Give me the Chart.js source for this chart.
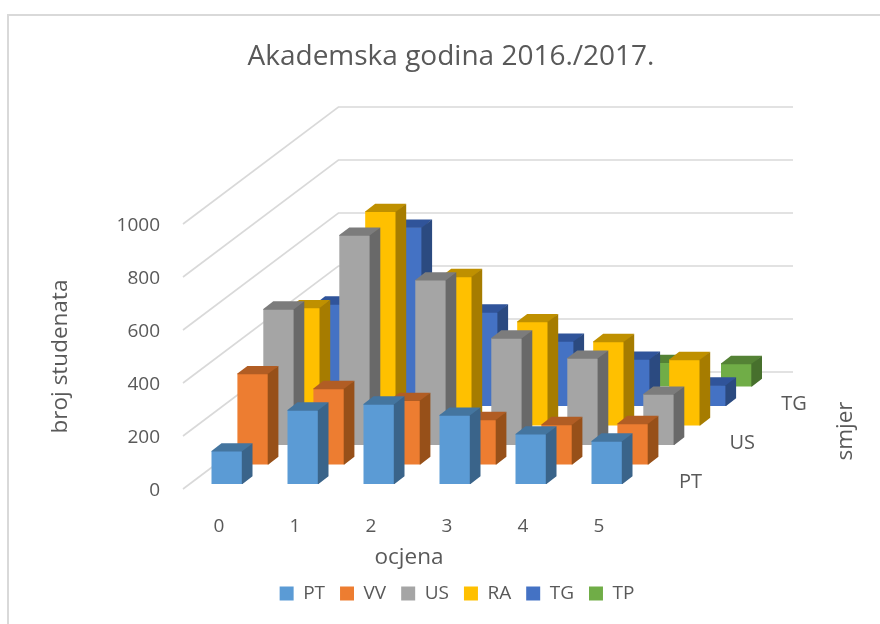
<!DOCTYPE html>
<html><head><meta charset="utf-8">
<style>html,body{margin:0;padding:0;background:#fff}canvas{display:block}</style>
<script src="https://cdn.jsdelivr.net/npm/chart.js@4/dist/chart.umd.min.js"></script>
</head><body><canvas id="c" width="880" height="624"></canvas>
<script>
const grades = ['0','1','2','3','4','5'];
const seriesNames = ['PT','VV','US','RA','TG','TP'];
const PT = [125,279,302,260,189,162];
const VV = [343,287,242,170,151,155];
const US = [513,792,623,404,328,192];
const RA = [445,808,562,392,317,249];
const TG = [385,675,355,245,177,79];
const TP = [40,100,80,70,91,87];
const seriesValues = [PT,VV,US,RA,TG,TP];
const frontColors = ['#5B9BD5','#ED7D31','#A5A5A5','#FFC000','#4472C4','#70AD47'];
const topColors = ['#44759F','#B15D24','#7C7C7C','#BF9000','#30549A','#548235'];
const sideColors = ['#3A648A','#975019','#696969','#A67C00','#2B4A80','#47702D'];
const depthTicks = [['PT',0],['US',2],['TG',4]];
const yTicks = [0,200,400,600,800,1000];
const FONT = '"Open Sans", sans-serif';
const TEXT = '#595959';
const GRID = '#D9D9D9';

// oblique projection of the depth axis, in px per series
const DX = 25.9, DY = 19.5, BAR_DX = 10, BAR_DY = 7.7, FLOOR_Y = 5, SEAM = 0.7;

const threeD = {
  id:'threeD',
  beforeDraw(chart){
    const c = chart.ctx;
    c.save(); c.fillStyle='#fff'; c.fillRect(0,0,chart.width,chart.height);
    c.strokeStyle=GRID; c.lineWidth=2;
    c.beginPath(); c.moveTo(880,15); c.lineTo(8,15); c.lineTo(8,624); c.stroke(); c.restore();
  },
  afterLayout(chart){
    const t = chart.titleBlock; t.left = 22; t.right = 880;
    const l = chart.legend; l.left = 34; l.right = 880; l.top = 584 - l.options.labels.padding;
  },
  beforeDatasetsDraw(chart){
    const c = chart.ctx, y = chart.scales.y, x0 = chart.chartArea.left - 6;
    const wx = DX*6, wy = DY*6;
    c.save(); c.strokeStyle=GRID; c.lineWidth=1.6;
    yTicks.forEach(v=>{
      const p = y.getPixelForValue(v);
      c.beginPath(); c.moveTo(x0,p); c.lineTo(x0+wx,p-wy); c.lineTo(793,p-wy); c.stroke();
    });
    c.restore();
  },
  beforeDatasetDraw(chart,{index}){
    const c = chart.ctx;
    c.save(); c.translate(index*DX, -index*DY - FLOOR_Y);
  },
  afterDatasetDraw(chart,{index,meta}){
    const c = chart.ctx;
    meta.data.forEach(b=>{
      const r = b.x + b.width/2, l = b.x - b.width/2;
      c.fillStyle = topColors[index];
      c.beginPath(); c.moveTo(l,b.y+SEAM); c.lineTo(l,b.y); c.lineTo(l+BAR_DX,b.y-BAR_DY); c.lineTo(r+BAR_DX,b.y-BAR_DY); c.lineTo(r+SEAM,b.y+SEAM); c.closePath(); c.fill();
      c.fillStyle = sideColors[index];
      c.beginPath(); c.moveTo(r-SEAM,b.y); c.lineTo(r,b.y); c.lineTo(r+BAR_DX,b.y-BAR_DY); c.lineTo(r+BAR_DX,b.base-BAR_DY); c.lineTo(r,b.base); c.lineTo(r-SEAM,b.base); c.closePath(); c.fill();
    });
    c.restore();
  },
  afterDraw(chart){
    const c = chart.ctx;
    c.save(); c.fillStyle=TEXT; c.textAlign='center'; c.textBaseline='middle';
    c.font = '20px '+FONT;
    depthTicks.forEach(([s,k])=>c.fillText(s, 690.5+k*DX, 482-k*DY));
    c.font = '22.5px '+FONT;
    c.fillText('ocjena',409,558);
    c.translate(846,431); c.rotate(-Math.PI/2); c.fillText('smjer',0,0);
    c.restore();
  }
};

new Chart(document.getElementById('c'),{
  type:'bar',
  plugins:[threeD],
  data:{labels:grades,datasets:seriesNames.map((n,i)=>({
    label:n,data:seriesValues[i],backgroundColor:frontColors[i],borderWidth:0,clip:false,
    grouped:false,categoryPercentage:1,barPercentage:31/76
  }))},
  options:{
    responsive:false,animation:false,
    layout:{padding:{left:0,right:235,top:0,bottom:0}},
    plugins:{
      title:{display:true,text:'Akademska godina 2016./2017.',color:TEXT,font:{family:FONT,size:28,weight:'normal'},padding:{top:40,bottom:150.4}},
      legend:{position:'bottom',labels:{color:TEXT,font:{family:FONT,size:19},boxWidth:14,boxHeight:14,padding:15}},
      tooltip:{enabled:false}
    },
    scales:{
      x:{grid:{display:false},border:{display:false},
        ticks:{color:TEXT,font:{family:FONT,size:19},padding:18,labelOffset:-8,maxRotation:0},
        afterFit(s){ s.height = 135 - s.chart.legend.height; }},
      y:{min:0,max:1000,grid:{display:false},border:{display:false},afterBuildTicks(s){s.ticks=yTicks.map(v=>({value:v}));},
        ticks:{color:TEXT,font:{family:FONT,size:19},padding:21,labelOffset:2,callback:v=>String(v)},
        title:{display:true,text:'broj studenata',color:TEXT,font:{family:FONT,size:22.5},padding:{top:47,bottom:0}},
        afterFit(s){ s.width = 189; }}
    }
  }
});
</script></body></html>
